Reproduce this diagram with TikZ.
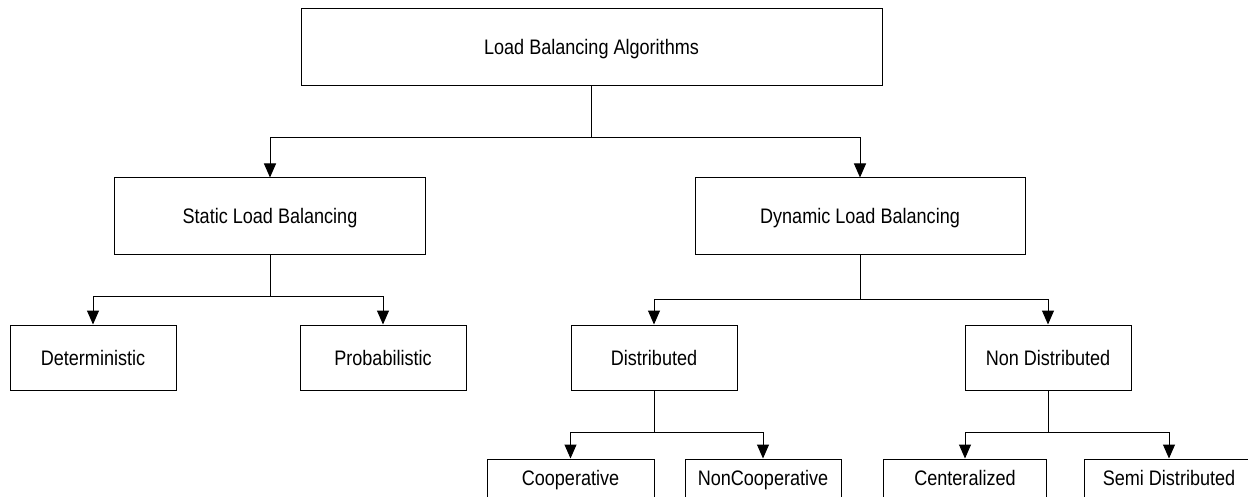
\documentclass[tikz,border=0pt]{standalone}
\usepackage{fontspec}
\setmainfont{Liberation Sans}[FakeStretch=0.86]
\usetikzlibrary{arrows.meta}
\begin{document}
\begin{tikzpicture}[x=1pt,y=-1pt,
  box/.style={draw=black, line width=1pt, inner sep=0pt, minimum height=#1,
    text height=15pt, text depth=0pt, font=\fontsize{21}{25}\selectfont},
  box/.default=65pt,
  leafbox/.style={box, text depth=28pt},
  link/.style={line width=1pt, draw=black},
  arr/.style={link, -{Triangle[length=14pt,width=12pt]}}]
\useasboundingbox (0,0) rectangle (1248,497);
\clip (0,0) rectangle (1248,497);

% root
\node[box=77pt, minimum width=581pt] (root) at (591.5,47.5) {Load Balancing Algorithms};

% second level
\node[box=77pt, minimum width=311pt] (static) at (270,216.5) {Static Load Balancing};
\node[box=77pt, minimum width=330pt] (dyn) at (860,216.5) {Dynamic Load Balancing};

% third level
\node[box, minimum width=166pt] (det) at (93,357.5) {Deterministic};
\node[box, minimum width=166pt] (prob) at (383,357.5) {Probabilistic};
\node[box, minimum width=166pt] (dist) at (654,357.5) {Distributed};
\node[box, minimum width=166pt] (ndist) at (1048,357.5) {Non Distributed};

% leaves (running past the lower edge)
\node[leafbox, minimum width=167pt] (coop) at (570.5,491.5) {Cooperative};
\node[leafbox, minimum width=156pt] (ncoop) at (763,491.5) {NonCooperative};
\node[leafbox, minimum width=163pt] (cent) at (965,491.5) {Centeralized};
\node[leafbox, minimum width=170pt] (semi) at (1169,491.5) {Semi Distributed};

% junction points of the tree connectors
\coordinate (j0) at (591.5,138);
\coordinate (j1) at (270,296);
\coordinate (j2) at (860,299);
\coordinate (j3) at (654,432);
\coordinate (j4) at (1048,432);

\draw[link] (root.south -| j0) -- (j0);
\draw[arr] (j0) -| (static.north);
\draw[arr] (j0) -| (dyn.north);

\draw[link] (static.south) -- (j1);
\draw[arr] (j1) -| (det.north);
\draw[arr] (j1) -| (prob.north);

\draw[link] (dyn.south) -- (j2);
\draw[arr] (j2) -| (dist.north);
\draw[arr] (j2) -| (ndist.north);

\draw[link] (dist.south) -- (j3);
\draw[arr] (j3) -| (coop.north);
\draw[arr] (j3) -| (ncoop.north);

\draw[link] (ndist.south) -- (j4);
\draw[arr] (j4) -| (cent.north);
\draw[arr] (j4) -| (semi.north);
\end{tikzpicture}
\end{document}
